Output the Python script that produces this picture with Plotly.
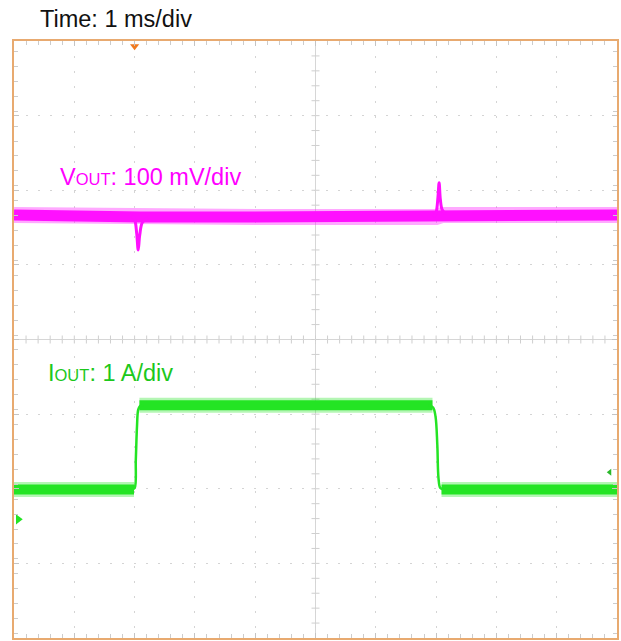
import plotly.graph_objects as go

# Scope settings
TIME_PER_DIV_MS = 1.0
VOUT_MV_PER_DIV = 100.0
IOUT_A_PER_DIV = 1.0
H_DIVS = 10
V_DIVS = 8

# Channel reference positions (divisions above screen centre)
VOUT_POS_DIV = 1.66
IOUT_POS_DIV = -2.41

# Vout steady-state band (ms, mV)
vout_band_t = [0.0, 0.5, 2.0, 2.1, 4.0, 7.0, 7.1, 10.0]
vout_band_mv = [1, 0, 0, -2, -2, -2, 1, 1]

# Vout transients at the two load steps (ms, mV)
vout_dip_t = [1.95, 2.0, 2.035, 2.06, 2.085, 2.13, 2.22]
vout_dip_mv = [0, -5, -24, -46, -26, -9, -3]
vout_spike_t = [6.96, 7.0, 7.03, 7.05, 7.07, 7.1, 7.16]
vout_spike_mv = [-2, 4, 24, 44, 22, 8, 2]

# Iout load levels (ms, A)
iout_t = [0.0, 1.99, None, 2.08, 6.94, None, 7.09, 10.0]
iout_a = [0.40, 0.40, None, 1.53, 1.53, None, 0.40, 0.40]

# Iout edges (ms, A)
iout_rise_t = [1.95, 2.00, 2.02, 2.04, 2.06, 2.09, 2.14]
iout_rise_a = [0.40, 0.42, 0.80, 1.25, 1.47, 1.52, 1.53]
iout_fall_t = [6.88, 6.95, 6.99, 7.02, 7.04, 7.07, 7.13]
iout_fall_a = [1.53, 1.50, 1.38, 1.00, 0.55, 0.42, 0.40]

TRIGGER_T = 2.0
IOUT_TRIG_LEVEL_A = 0.63

MAGENTA = "#ff10ff"
MAGENTA_SOFT = "rgba(255,40,255,0.4)"
GREEN = "#24e424"
GREEN_SOFT = "rgba(40,230,40,0.35)"
BORDER = "#e8aa70"
FONT = "Arial, Liberation Sans, sans-serif"

W, H = 621, 641
ML, MR, MT, MB = 14, 4, 41, 3
PW, PH = W - ML - MR, H - MT - MB

x_range = [0, H_DIVS * TIME_PER_DIV_MS]
y_range = [(-V_DIVS / 2 - VOUT_POS_DIV) * VOUT_MV_PER_DIV,
           (V_DIVS / 2 - VOUT_POS_DIV) * VOUT_MV_PER_DIV]
y2_range = [(-V_DIVS / 2 - IOUT_POS_DIV) * IOUT_A_PER_DIV,
            (V_DIVS / 2 - IOUT_POS_DIV) * IOUT_A_PER_DIV]

fig = go.Figure()

# Vout channel
fig.add_trace(go.Scatter(x=vout_band_t, y=vout_band_mv, mode="lines",
                         line=dict(color=MAGENTA_SOFT, width=16), hoverinfo="skip"))
fig.add_trace(go.Scatter(x=vout_band_t, y=vout_band_mv, mode="lines",
                         line=dict(color=MAGENTA, width=11), hoverinfo="skip"))
for tx, vy in ((vout_dip_t, vout_dip_mv), (vout_spike_t, vout_spike_mv)):
    fig.add_trace(go.Scatter(x=tx, y=vy, mode="lines", line_shape="spline",
                             line=dict(color=MAGENTA, width=3), hoverinfo="skip"))

# Iout channel
fig.add_trace(go.Scatter(x=iout_t, y=iout_a, yaxis="y2", mode="lines",
                         line=dict(color=GREEN_SOFT, width=15), hoverinfo="skip"))
fig.add_trace(go.Scatter(x=iout_t, y=iout_a, yaxis="y2", mode="lines",
                         line=dict(color=GREEN, width=10), hoverinfo="skip"))
for tx, iy in ((iout_rise_t, iout_rise_a), (iout_fall_t, iout_fall_a)):
    fig.add_trace(go.Scatter(x=tx, y=iy, yaxis="y2", mode="lines", line_shape="spline",
                             line=dict(color=GREEN, width=2.5), hoverinfo="skip"))

# Trigger position, Iout ground and trigger level markers
fig.add_trace(go.Scatter(x=[TRIGGER_T], y=[y_range[1] - 0.07 * VOUT_MV_PER_DIV],
                         mode="markers", cliponaxis=False,
                         marker=dict(symbol="triangle-down", size=8, color="#f07a20"),
                         hoverinfo="skip"))
fig.add_trace(go.Scatter(x=[0.07], y=[0], yaxis="y2", mode="markers", cliponaxis=False,
                         marker=dict(symbol="triangle-right", size=9, color=GREEN),
                         hoverinfo="skip"))
fig.add_trace(go.Scatter(x=[9.88], y=[IOUT_TRIG_LEVEL_A], yaxis="y2", mode="markers",
                         cliponaxis=False,
                         marker=dict(symbol="triangle-left", size=6, color="#2ab82a"),
                         hoverinfo="skip"))

# Centre graticule lines with their minor ticks
shapes = [
    dict(type="line", xref="x", yref="paper", x0=5, x1=5, y0=0, y1=1,
         line=dict(color="#d6d6d6", width=1), layer="below"),
    dict(type="line", xref="paper", yref="paper", x0=0, x1=1, y0=0.5, y1=0.5,
         line=dict(color="#d6d6d6", width=1), layer="below"),
]
for k in range(1, V_DIVS * 5):
    shapes.append(dict(type="line", xref="paper", yref="paper",
                       x0=0.5 - 4 / PW, x1=0.5 + 4 / PW, y0=k / (V_DIVS * 5), y1=k / (V_DIVS * 5),
                       line=dict(color="#cfcfcf", width=1), layer="below"))
for k in range(1, H_DIVS * 5):
    shapes.append(dict(type="line", xref="x", yref="paper",
                       x0=k * 0.2, x1=k * 0.2, y0=0.5 - 4 / PH, y1=0.5 + 4 / PH,
                       line=dict(color="#cfcfcf", width=1), layer="below"))


def ann(text, px, py, color):
    return dict(text=text, xref="paper", yref="paper",
                x=(px - ML) / PW, y=(H - MB - py) / PH,
                xanchor="left", yanchor="middle", showarrow=False,
                font=dict(family=FONT, size=23.5, color=color))


annotations = [
    ann("Time: 1 ms/div", 38, 19, "#111111"),
    ann('V<span style="font-size:16.5px">OUT</span>: 100 mV/div', 58, 177, "#ff00ff"),
    ann('I<span style="font-size:16.5px">OUT</span>: 1 A/div', 46, 373, "#1cc81c"),
]

fig.update_layout(
    width=W, height=H,
    margin=dict(l=ML, r=MR, t=MT, b=MB),
    paper_bgcolor="white", plot_bgcolor="white",
    showlegend=False,
    shapes=shapes,
    annotations=annotations,
    xaxis=dict(range=x_range, dtick=TIME_PER_DIV_MS, tick0=0,
               showgrid=True, gridcolor="#d4d4d4", gridwidth=1, griddash="2px,13px",
               zeroline=False, showticklabels=False,
               showline=True, linecolor=BORDER, linewidth=2, mirror="ticks",
               ticks="inside", ticklen=5, tickcolor="#c4c4c4",
               minor=dict(dtick=0.2 * TIME_PER_DIV_MS, ticks="inside", ticklen=4,
                          tickcolor="#cccccc", showgrid=False),
               fixedrange=True),
    yaxis=dict(range=y_range, dtick=VOUT_MV_PER_DIV, tick0=-VOUT_POS_DIV * VOUT_MV_PER_DIV,
               showgrid=True, gridcolor="#d4d4d4", gridwidth=1, griddash="2px,10px",
               zeroline=False, showticklabels=False,
               showline=True, linecolor=BORDER, linewidth=2, mirror="ticks",
               ticks="inside", ticklen=5, tickcolor="#c4c4c4",
               minor=dict(dtick=0.2 * VOUT_MV_PER_DIV, ticks="inside", ticklen=4,
                          tickcolor="#cccccc", showgrid=False),
               fixedrange=True),
    yaxis2=dict(range=y2_range, overlaying="y", side="right", showgrid=False,
                zeroline=False, showticklabels=False, showline=False, ticks="",
                fixedrange=True),
)

fig.write_html("out.html")
